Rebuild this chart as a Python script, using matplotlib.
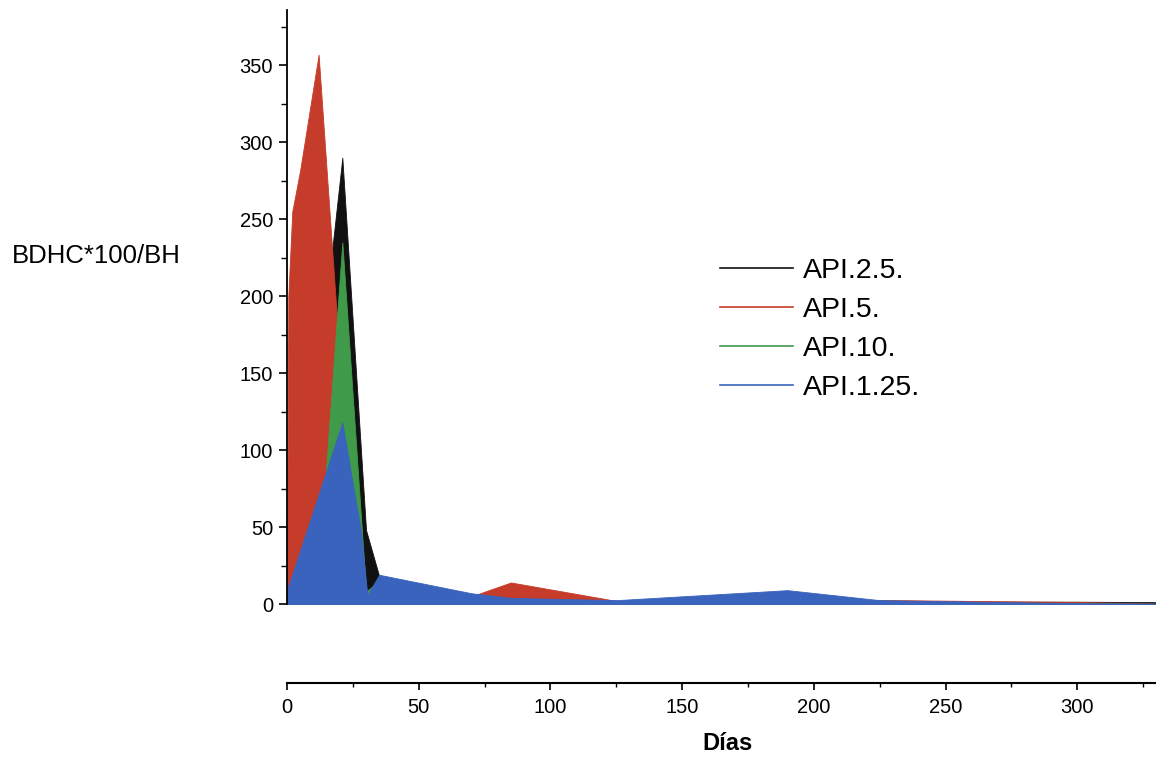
import matplotlib
matplotlib.use('Agg')
import matplotlib.pyplot as plt
from matplotlib.ticker import MultipleLocator

# ---------------------------------------------------------
# datos (días, BDHC*100/BH)
# ---------------------------------------------------------
dias_api25 = [0, 5, 12, 21, 30, 35, 70, 85, 125, 190, 225, 300, 330]
api25 = [5, 40, 150, 290, 48, 18, 5, 3, 2, 3, 1.5, 1.5, 1.2]

dias_api5 = [0, 0.5, 2, 5, 12, 21, 30, 35, 70, 85, 125, 190, 225, 260, 300, 330]
api5 = [10, 200, 255, 282, 357, 135, 5, 10, 5, 14, 2, 3, 2.6, 2.0, 1.3, 0.3]

dias_api10 = [0, 5, 12, 21, 30, 35, 70, 85, 125, 190, 225, 300, 330]
api10 = [3, 5, 20, 235, 8, 15, 4, 3, 2, 3, 1, 0.5, 0.2]

dias_api125 = [0, 21, 28, 30.5, 35, 70, 85, 125, 190, 225, 300, 330]
api125 = [9, 118, 48, 6, 19, 7, 4, 2.5, 9, 2.5, 0.5, 0.2]

series = [
    ('API.2.5.', dias_api25, api25, '#111111'),
    ('API.5.', dias_api5, api5, '#c63c2a'),
    ('API.10.', dias_api10, api10, '#3f9a4a'),
    ('API.1.25.', dias_api125, api125, '#3a63bd'),
]

FONT = ['Liberation Sans', 'DejaVu Sans']


def plot_chart():
    plt.rcParams['font.family'] = FONT
    fig = plt.figure(figsize=(11.56, 7.58), dpi=100)
    ax = fig.add_axes([287 / 1156, 154 / 758, 868 / 1156, 594 / 758])

    # áreas rellenas (la última queda delante)
    for nombre, x, y, color in series:
        ax.fill_between(x, 0, y, color=color, linewidth=0.6, edgecolor=color)
        ax.plot([], [], color=color, linewidth=1.2, label=nombre)

    ax.set_xlim(0, 329.5)
    ax.set_ylim(0, 386)

    # ejes
    ax.spines['top'].set_visible(False)
    ax.spines['right'].set_visible(False)
    ax.spines['bottom'].set_position(('outward', 57))
    ax.spines['left'].set_linewidth(1.3)
    ax.spines['bottom'].set_linewidth(1.5)

    ax.xaxis.set_major_locator(MultipleLocator(50))
    ax.xaxis.set_minor_locator(MultipleLocator(25))
    ax.yaxis.set_major_locator(MultipleLocator(50))
    ax.yaxis.set_minor_locator(MultipleLocator(25))
    ax.set_yticks(range(0, 351, 50))

    ax.tick_params(axis='y', which='major', direction='out', length=6, width=1.2,
                   pad=4, labelsize=14.5)
    ax.tick_params(axis='y', which='minor', direction='out', length=4, width=1)
    ax.tick_params(axis='x', which='major', direction='out', length=5, width=1.2,
                   pad=6, labelsize=14.5)
    ax.tick_params(axis='x', which='minor', direction='out', length=3, width=1)

    ax.set_xlabel('Días', fontsize=17, fontweight='bold')
    ax.xaxis.set_label_coords(0.507, -0.215)

    fig.text(12 / 1156, 1 - 256 / 758, 'BDHC*100/BH', fontsize=18.5,
             ha='left', va='center')

    ax.legend(loc='upper left', bbox_to_anchor=(720 / 1156, 1 - 258 / 758),
              bbox_transform=fig.transFigure, frameon=False, fontsize=20.5,
              handlelength=2.56, handletextpad=0.35, labelspacing=0.46,
              borderpad=0, borderaxespad=0)

    fig.savefig('out.png', dpi=100, facecolor='white')


if __name__ == "__main__":
    plot_chart()
